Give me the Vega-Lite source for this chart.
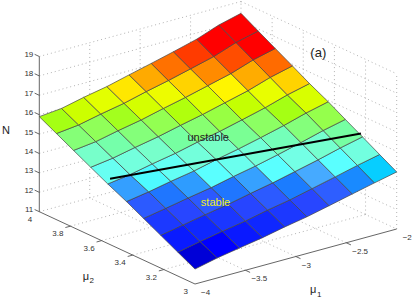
{"$schema":"https://vega.github.io/schema/vega-lite/v6.json","width":415,"height":301,"padding":0,"autosize":{"type":"none"},"background":"white","config":{"view":{"stroke":null},"text":{"font":"Liberation Sans"}},
"encoding":{"x":{"field":"px","type":"quantitative","axis":null,"scale":{"domain":[0,415],"nice":false,"zero":false}},"y":{"field":"py","type":"quantitative","axis":null,"scale":{"domain":[301,0],"nice":false,"zero":false}}},
"layer":[
{"data":{"values":[
{"g":"n12a","mu1":[-4,-2],"mu2":[4,4],"N":[12,12]},{"g":"n13a","mu1":[-4,-2],"mu2":[4,4],"N":[13,13]},{"g":"n14a","mu1":[-4,-2],"mu2":[4,4],"N":[14,14]},{"g":"n15a","mu1":[-4,-2],"mu2":[4,4],"N":[15,15]},{"g":"n16a","mu1":[-4,-2],"mu2":[4,4],"N":[16,16]},{"g":"n17a","mu1":[-4,-2],"mu2":[4,4],"N":[17,17]},{"g":"n18a","mu1":[-4,-2],"mu2":[4,4],"N":[18,18]},{"g":"n19a","mu1":[-4,-2],"mu2":[4,4],"N":[19,19]},{"g":"n11a","mu1":[-4,-2],"mu2":[4,4],"N":[11,11]},
{"g":"n12b","mu1":[-2,-2],"mu2":[4,3],"N":[12,12]},{"g":"n13b","mu1":[-2,-2],"mu2":[4,3],"N":[13,13]},{"g":"n14b","mu1":[-2,-2],"mu2":[4,3],"N":[14,14]},{"g":"n15b","mu1":[-2,-2],"mu2":[4,3],"N":[15,15]},{"g":"n16b","mu1":[-2,-2],"mu2":[4,3],"N":[16,16]},{"g":"n17b","mu1":[-2,-2],"mu2":[4,3],"N":[17,17]},{"g":"n18b","mu1":[-2,-2],"mu2":[4,3],"N":[18,18]},{"g":"n19b","mu1":[-2,-2],"mu2":[4,3],"N":[19,19]},{"g":"n11b","mu1":[-2,-2],"mu2":[4,3],"N":[11,11]},
{"g":"v1","mu1":[-3.5,-3.5],"mu2":[4,4],"N":[11,19]},{"g":"v2","mu1":[-3,-3],"mu2":[4,4],"N":[11,19]},{"g":"v3","mu1":[-2.5,-2.5],"mu2":[4,4],"N":[11,19]},{"g":"v4","mu1":[-2,-2],"mu2":[4,4],"N":[11,19]},
{"g":"w1","mu1":[-2,-2],"mu2":[3.8,3.8],"N":[11,19]},{"g":"w2","mu1":[-2,-2],"mu2":[3.6,3.6],"N":[11,19]},{"g":"w3","mu1":[-2,-2],"mu2":[3.4,3.4],"N":[11,19]},{"g":"w4","mu1":[-2,-2],"mu2":[3.2,3.2],"N":[11,19]},{"g":"w5","mu1":[-2,-2],"mu2":[3,3],"N":[11,19]},
{"g":"f1","mu1":[-3.5,-3.5],"mu2":[3,4],"N":[11,11]},{"g":"f2","mu1":[-3,-3],"mu2":[3,4],"N":[11,11]},{"g":"f3","mu1":[-2.5,-2.5],"mu2":[3,4],"N":[11,11]},
{"g":"h1","mu1":[-4,-2],"mu2":[3.2,3.2],"N":[11,11]},{"g":"h2","mu1":[-4,-2],"mu2":[3.4,3.4],"N":[11,11]},{"g":"h3","mu1":[-4,-2],"mu2":[3.6,3.6],"N":[11,11]},{"g":"h4","mu1":[-4,-2],"mu2":[3.8,3.8],"N":[11,11]}
]},"transform":[{"flatten":["mu1","mu2","N"]},{"calculate":"195+100.85*(datum.mu1+4)-155.7*(datum.mu2-3)","as":"px"},{"calculate":"284-27.5*(datum.mu1+4)-72.3*(datum.mu2-3)-19.4*(datum.N-11)","as":"py"}],"mark":{"type":"line","stroke":"#a0a0a0","strokeWidth":0.8,"strokeDash":[1,3]},"encoding":{"detail":{"field":"g"},"order":{"value":null}}},
{"data":{"values":[
{"g":"z","mu1":[-4,-4],"mu2":[4,4],"N":[11,19]},{"g":"y","mu1":[-4,-4],"mu2":[4,3],"N":[11,11]},{"g":"x","mu1":[-4,-2],"mu2":[3,3],"N":[11,11]},
{"g":"t11","mu1":[-4,-4],"mu2":[4,4.03],"N":[11,11]},{"g":"t12","mu1":[-4,-4],"mu2":[4,4.03],"N":[12,12]},{"g":"t13","mu1":[-4,-4],"mu2":[4,4.03],"N":[13,13]},{"g":"t14","mu1":[-4,-4],"mu2":[4,4.03],"N":[14,14]},{"g":"t15","mu1":[-4,-4],"mu2":[4,4.03],"N":[15,15]},{"g":"t16","mu1":[-4,-4],"mu2":[4,4.03],"N":[16,16]},{"g":"t17","mu1":[-4,-4],"mu2":[4,4.03],"N":[17,17]},{"g":"t18","mu1":[-4,-4],"mu2":[4,4.03],"N":[18,18]},{"g":"t19","mu1":[-4,-4],"mu2":[4,4.03],"N":[19,19]},
{"g":"u1","mu1":[-4,-4.05],"mu2":[3.2,3.2],"N":[11,11]},{"g":"u2","mu1":[-4,-4.05],"mu2":[3.4,3.4],"N":[11,11]},{"g":"u3","mu1":[-4,-4.05],"mu2":[3.6,3.6],"N":[11,11]},{"g":"u4","mu1":[-4,-4.05],"mu2":[3.8,3.8],"N":[11,11]},
{"g":"s1","mu1":[-3.5,-3.5],"mu2":[3,2.97],"N":[11,11]},{"g":"s2","mu1":[-3,-3],"mu2":[3,2.97],"N":[11,11]},{"g":"s3","mu1":[-2.5,-2.5],"mu2":[3,2.97],"N":[11,11]}
]},"transform":[{"flatten":["mu1","mu2","N"]},{"calculate":"195+100.85*(datum.mu1+4)-155.7*(datum.mu2-3)","as":"px"},{"calculate":"284-27.5*(datum.mu1+4)-72.3*(datum.mu2-3)-19.4*(datum.N-11)","as":"py"}],"mark":{"type":"line","stroke":"#555555","strokeWidth":0.9},"encoding":{"detail":{"field":"g"},"order":{"value":null}}},
{"data":{"values":[
{"c":"00","C":12.13,"mu1":[-4,-3.78,-3.78,-4],"mu2":[3,3,3.11,3.11],"N":[11.77,12.03,12.47,12.23]},
{"c":"01","C":12.58,"mu1":[-4,-3.78,-3.78,-4],"mu2":[3.11,3.11,3.22,3.22],"N":[12.23,12.47,12.91,12.69]},
{"c":"02","C":13.03,"mu1":[-4,-3.78,-3.78,-4],"mu2":[3.22,3.22,3.33,3.33],"N":[12.69,12.91,13.36,13.15]},
{"c":"03","C":13.48,"mu1":[-4,-3.78,-3.78,-4],"mu2":[3.33,3.33,3.44,3.44],"N":[13.15,13.36,13.80,13.61]},
{"c":"04","C":13.93,"mu1":[-4,-3.78,-3.78,-4],"mu2":[3.44,3.44,3.56,3.56],"N":[13.61,13.80,14.24,14.07]},
{"c":"05","C":14.38,"mu1":[-4,-3.78,-3.78,-4],"mu2":[3.56,3.56,3.67,3.67],"N":[14.07,14.24,14.68,14.52]},
{"c":"06","C":14.83,"mu1":[-4,-3.78,-3.78,-4],"mu2":[3.67,3.67,3.78,3.78],"N":[14.52,14.68,15.12,14.98]},
{"c":"07","C":15.28,"mu1":[-4,-3.78,-3.78,-4],"mu2":[3.78,3.78,3.89,3.89],"N":[14.98,15.12,15.57,15.44]},
{"c":"08","C":15.73,"mu1":[-4,-3.78,-3.78,-4],"mu2":[3.89,3.89,4,4],"N":[15.44,15.57,16.01,15.90]},
{"c":"10","C":12.35,"mu1":[-3.78,-3.56,-3.56,-3.78],"mu2":[3,3,3.11,3.11],"N":[12.03,12.23,12.68,12.47]},
{"c":"11","C":12.80,"mu1":[-3.78,-3.56,-3.56,-3.78],"mu2":[3.11,3.11,3.22,3.22],"N":[12.47,12.68,13.13,12.91]},
{"c":"12","C":13.25,"mu1":[-3.78,-3.56,-3.56,-3.78],"mu2":[3.22,3.22,3.33,3.33],"N":[12.91,13.13,13.58,13.36]},
{"c":"13","C":13.69,"mu1":[-3.78,-3.56,-3.56,-3.78],"mu2":[3.33,3.33,3.44,3.44],"N":[13.36,13.58,14.03,13.80]},
{"c":"14","C":14.14,"mu1":[-3.78,-3.56,-3.56,-3.78],"mu2":[3.44,3.44,3.56,3.56],"N":[13.80,14.03,14.48,14.24]},
{"c":"15","C":14.58,"mu1":[-3.78,-3.56,-3.56,-3.78],"mu2":[3.56,3.56,3.67,3.67],"N":[14.24,14.48,14.92,14.68]},
{"c":"16","C":15.02,"mu1":[-3.78,-3.56,-3.56,-3.78],"mu2":[3.67,3.67,3.78,3.78],"N":[14.68,14.92,15.37,15.12]},
{"c":"17","C":15.47,"mu1":[-3.78,-3.56,-3.56,-3.78],"mu2":[3.78,3.78,3.89,3.89],"N":[15.12,15.37,15.82,15.57]},
{"c":"18","C":15.92,"mu1":[-3.78,-3.56,-3.56,-3.78],"mu2":[3.89,3.89,4,4],"N":[15.57,15.82,16.27,16.01]},
{"c":"20","C":12.56,"mu1":[-3.56,-3.33,-3.33,-3.56],"mu2":[3,3,3.11,3.11],"N":[12.23,12.44,12.89,12.68]},
{"c":"21","C":13.01,"mu1":[-3.56,-3.33,-3.33,-3.56],"mu2":[3.11,3.11,3.22,3.22],"N":[12.68,12.89,13.34,13.13]},
{"c":"22","C":13.46,"mu1":[-3.56,-3.33,-3.33,-3.56],"mu2":[3.22,3.22,3.33,3.33],"N":[13.13,13.34,13.79,13.58]},
{"c":"23","C":13.91,"mu1":[-3.56,-3.33,-3.33,-3.56],"mu2":[3.33,3.33,3.44,3.44],"N":[13.58,13.79,14.24,14.03]},
{"c":"24","C":14.36,"mu1":[-3.56,-3.33,-3.33,-3.56],"mu2":[3.44,3.44,3.56,3.56],"N":[14.03,14.24,14.70,14.48]},
{"c":"25","C":14.81,"mu1":[-3.56,-3.33,-3.33,-3.56],"mu2":[3.56,3.56,3.67,3.67],"N":[14.48,14.70,15.15,14.92]},
{"c":"26","C":15.26,"mu1":[-3.56,-3.33,-3.33,-3.56],"mu2":[3.67,3.67,3.78,3.78],"N":[14.92,15.15,15.60,15.37]},
{"c":"27","C":15.71,"mu1":[-3.56,-3.33,-3.33,-3.56],"mu2":[3.78,3.78,3.89,3.89],"N":[15.37,15.60,16.05,15.82]},
{"c":"28","C":16.16,"mu1":[-3.56,-3.33,-3.33,-3.56],"mu2":[3.89,3.89,4,4],"N":[15.82,16.05,16.50,16.27]},
{"c":"30","C":12.79,"mu1":[-3.33,-3.11,-3.11,-3.33],"mu2":[3,3,3.11,3.11],"N":[12.44,12.68,13.14,12.89]},
{"c":"31","C":13.24,"mu1":[-3.33,-3.11,-3.11,-3.33],"mu2":[3.11,3.11,3.22,3.22],"N":[12.89,13.14,13.59,13.34]},
{"c":"32","C":13.69,"mu1":[-3.33,-3.11,-3.11,-3.33],"mu2":[3.22,3.22,3.33,3.33],"N":[13.34,13.59,14.05,13.79]},
{"c":"33","C":14.15,"mu1":[-3.33,-3.11,-3.11,-3.33],"mu2":[3.33,3.33,3.44,3.44],"N":[13.79,14.05,14.51,14.24]},
{"c":"34","C":14.61,"mu1":[-3.33,-3.11,-3.11,-3.33],"mu2":[3.44,3.44,3.56,3.56],"N":[14.24,14.51,14.97,14.70]},
{"c":"35","C":15.06,"mu1":[-3.33,-3.11,-3.11,-3.33],"mu2":[3.56,3.56,3.67,3.67],"N":[14.70,14.97,15.42,15.15]},
{"c":"36","C":15.51,"mu1":[-3.33,-3.11,-3.11,-3.33],"mu2":[3.67,3.67,3.78,3.78],"N":[15.15,15.42,15.88,15.60]},
{"c":"37","C":15.97,"mu1":[-3.33,-3.11,-3.11,-3.33],"mu2":[3.78,3.78,3.89,3.89],"N":[15.60,15.88,16.34,16.05]},
{"c":"38","C":16.42,"mu1":[-3.33,-3.11,-3.11,-3.33],"mu2":[3.89,3.89,4,4],"N":[16.05,16.34,16.79,16.50]},
{"c":"40","C":13.02,"mu1":[-3.11,-2.89,-2.89,-3.11],"mu2":[3,3,3.11,3.11],"N":[12.68,12.89,13.35,13.14]},
{"c":"41","C":13.48,"mu1":[-3.11,-2.89,-2.89,-3.11],"mu2":[3.11,3.11,3.22,3.22],"N":[13.14,13.35,13.82,13.59]},
{"c":"42","C":13.94,"mu1":[-3.11,-2.89,-2.89,-3.11],"mu2":[3.22,3.22,3.33,3.33],"N":[13.59,13.82,14.28,14.05]},
{"c":"43","C":14.40,"mu1":[-3.11,-2.89,-2.89,-3.11],"mu2":[3.33,3.33,3.44,3.44],"N":[14.05,14.28,14.75,14.51]},
{"c":"44","C":14.86,"mu1":[-3.11,-2.89,-2.89,-3.11],"mu2":[3.44,3.44,3.56,3.56],"N":[14.51,14.75,15.21,14.97]},
{"c":"45","C":15.32,"mu1":[-3.11,-2.89,-2.89,-3.11],"mu2":[3.56,3.56,3.67,3.67],"N":[14.97,15.21,15.67,15.42]},
{"c":"46","C":15.78,"mu1":[-3.11,-2.89,-2.89,-3.11],"mu2":[3.67,3.67,3.78,3.78],"N":[15.42,15.67,16.14,15.88]},
{"c":"47","C":16.24,"mu1":[-3.11,-2.89,-2.89,-3.11],"mu2":[3.78,3.78,3.89,3.89],"N":[15.88,16.14,16.60,16.34]},
{"c":"48","C":16.70,"mu1":[-3.11,-2.89,-2.89,-3.11],"mu2":[3.89,3.89,4,4],"N":[16.34,16.60,17.07,16.79]},
{"c":"50","C":13.25,"mu1":[-2.89,-2.67,-2.67,-2.89],"mu2":[3,3,3.11,3.11],"N":[12.89,13.15,13.62,13.35]},
{"c":"51","C":13.72,"mu1":[-2.89,-2.67,-2.67,-2.89],"mu2":[3.11,3.11,3.22,3.22],"N":[13.35,13.62,14.09,13.82]},
{"c":"52","C":14.19,"mu1":[-2.89,-2.67,-2.67,-2.89],"mu2":[3.22,3.22,3.33,3.33],"N":[13.82,14.09,14.55,14.28]},
{"c":"53","C":14.65,"mu1":[-2.89,-2.67,-2.67,-2.89],"mu2":[3.33,3.33,3.44,3.44],"N":[14.28,14.55,15.02,14.75]},
{"c":"54","C":15.12,"mu1":[-2.89,-2.67,-2.67,-2.89],"mu2":[3.44,3.44,3.56,3.56],"N":[14.75,15.02,15.49,15.21]},
{"c":"55","C":15.58,"mu1":[-2.89,-2.67,-2.67,-2.89],"mu2":[3.56,3.56,3.67,3.67],"N":[15.21,15.49,15.96,15.67]},
{"c":"56","C":16.05,"mu1":[-2.89,-2.67,-2.67,-2.89],"mu2":[3.67,3.67,3.78,3.78],"N":[15.67,15.96,16.43,16.14]},
{"c":"57","C":16.52,"mu1":[-2.89,-2.67,-2.67,-2.89],"mu2":[3.78,3.78,3.89,3.89],"N":[16.14,16.43,16.89,16.60]},
{"c":"58","C":16.98,"mu1":[-2.89,-2.67,-2.67,-2.89],"mu2":[3.89,3.89,4,4],"N":[16.60,16.89,17.36,17.07]},
{"c":"60","C":13.53,"mu1":[-2.67,-2.44,-2.44,-2.67],"mu2":[3,3,3.11,3.11],"N":[13.15,13.43,13.90,13.62]},
{"c":"61","C":14.00,"mu1":[-2.67,-2.44,-2.44,-2.67],"mu2":[3.11,3.11,3.22,3.22],"N":[13.62,13.90,14.37,14.09]},
{"c":"62","C":14.47,"mu1":[-2.67,-2.44,-2.44,-2.67],"mu2":[3.22,3.22,3.33,3.33],"N":[14.09,14.37,14.85,14.55]},
{"c":"63","C":14.94,"mu1":[-2.67,-2.44,-2.44,-2.67],"mu2":[3.33,3.33,3.44,3.44],"N":[14.55,14.85,15.32,15.02]},
{"c":"64","C":15.41,"mu1":[-2.67,-2.44,-2.44,-2.67],"mu2":[3.44,3.44,3.56,3.56],"N":[15.02,15.32,15.79,15.49]},
{"c":"65","C":15.88,"mu1":[-2.67,-2.44,-2.44,-2.67],"mu2":[3.56,3.56,3.67,3.67],"N":[15.49,15.79,16.26,15.96]},
{"c":"66","C":16.35,"mu1":[-2.67,-2.44,-2.44,-2.67],"mu2":[3.67,3.67,3.78,3.78],"N":[15.96,16.26,16.73,16.43]},
{"c":"67","C":16.81,"mu1":[-2.67,-2.44,-2.44,-2.67],"mu2":[3.78,3.78,3.89,3.89],"N":[16.43,16.73,17.20,16.89]},
{"c":"68","C":17.28,"mu1":[-2.67,-2.44,-2.44,-2.67],"mu2":[3.89,3.89,4,4],"N":[16.89,17.20,17.68,17.36]},
{"c":"70","C":13.80,"mu1":[-2.44,-2.22,-2.22,-2.44],"mu2":[3,3,3.11,3.11],"N":[13.43,13.69,14.18,13.90]},
{"c":"71","C":14.28,"mu1":[-2.44,-2.22,-2.22,-2.44],"mu2":[3.11,3.11,3.22,3.22],"N":[13.90,14.18,14.67,14.37]},
{"c":"72","C":14.76,"mu1":[-2.44,-2.22,-2.22,-2.44],"mu2":[3.22,3.22,3.33,3.33],"N":[14.37,14.67,15.16,14.85]},
{"c":"73","C":15.25,"mu1":[-2.44,-2.22,-2.22,-2.44],"mu2":[3.33,3.33,3.44,3.44],"N":[14.85,15.16,15.65,15.32]},
{"c":"74","C":15.73,"mu1":[-2.44,-2.22,-2.22,-2.44],"mu2":[3.44,3.44,3.56,3.56],"N":[15.32,15.65,16.14,15.79]},
{"c":"75","C":16.21,"mu1":[-2.44,-2.22,-2.22,-2.44],"mu2":[3.56,3.56,3.67,3.67],"N":[15.79,16.14,16.63,16.26]},
{"c":"76","C":16.69,"mu1":[-2.44,-2.22,-2.22,-2.44],"mu2":[3.67,3.67,3.78,3.78],"N":[16.26,16.63,17.12,16.73]},
{"c":"77","C":17.17,"mu1":[-2.44,-2.22,-2.22,-2.44],"mu2":[3.78,3.78,3.89,3.89],"N":[16.73,17.12,17.61,17.20]},
{"c":"78","C":17.65,"mu1":[-2.44,-2.22,-2.22,-2.44],"mu2":[3.89,3.89,4,4],"N":[17.20,17.61,18.10,17.68]},
{"c":"80","C":14.06,"mu1":[-2.22,-2,-2,-2.22],"mu2":[3,3,3.11,3.11],"N":[13.69,13.94,14.43,14.18]},
{"c":"81","C":14.55,"mu1":[-2.22,-2,-2,-2.22],"mu2":[3.11,3.11,3.22,3.22],"N":[14.18,14.43,14.93,14.67]},
{"c":"82","C":15.05,"mu1":[-2.22,-2,-2,-2.22],"mu2":[3.22,3.22,3.33,3.33],"N":[14.67,14.93,15.42,15.16]},
{"c":"83","C":15.54,"mu1":[-2.22,-2,-2,-2.22],"mu2":[3.33,3.33,3.44,3.44],"N":[15.16,15.42,15.92,15.65]},
{"c":"84","C":16.03,"mu1":[-2.22,-2,-2,-2.22],"mu2":[3.44,3.44,3.56,3.56],"N":[15.65,15.92,16.41,16.14]},
{"c":"85","C":16.52,"mu1":[-2.22,-2,-2,-2.22],"mu2":[3.56,3.56,3.67,3.67],"N":[16.14,16.41,16.91,16.63]},
{"c":"86","C":17.02,"mu1":[-2.22,-2,-2,-2.22],"mu2":[3.67,3.67,3.78,3.78],"N":[16.63,16.91,17.40,17.12]},
{"c":"87","C":17.51,"mu1":[-2.22,-2,-2,-2.22],"mu2":[3.78,3.78,3.89,3.89],"N":[17.12,17.40,17.89,17.61]},
{"c":"88","C":18.00,"mu1":[-2.22,-2,-2,-2.22],"mu2":[3.89,3.89,4,4],"N":[17.61,17.89,18.39,18.10]}
]},"transform":[{"flatten":["mu1","mu2","N"]},{"calculate":"195+100.85*(datum.mu1+4)-155.7*(datum.mu2-3)","as":"px"},{"calculate":"284-27.5*(datum.mu1+4)-72.3*(datum.mu2-3)-19.4*(datum.N-11)","as":"py"}],"mark":{"type":"line","interpolate":"linear-closed","stroke":"#454545","strokeWidth":0.7,"strokeJoin":"miter"},"encoding":{"detail":{"field":"c"},"order":{"value":null},"fill":{"field":"C","type":"quantitative","legend":null,"scale":{"type":"linear","clamp":true,"zero":false,"nice":false,"domain":[12.1,12.35,12.56,12.8,13.25,13.6,14.0,14.15,14.3,14.45,14.85,15.2,15.73,15.95,16.2,16.35,16.5,16.7,16.8,17.0,17.2,17.5],"range":["#0000d2","#0000ff","#0a19ff","#0f28ff","#2846ff","#3264ff","#46aaff","#5affff","#5affff","#73ffe6","#78ffc8","#82ff82","#a5ff14","#d2ff00","#e6ff00","#fff500","#ffd700","#ffaa00","#ff8c00","#ff6e00","#ff4600","#ff0000"]}}}},
{"data":{"values":[{"g":"b","mu1":[-3.95,-2.05],"mu2":[3.578,3.197],"N":[14.2,15.26]}]},"transform":[{"flatten":["mu1","mu2","N"]},{"calculate":"195+100.85*(datum.mu1+4)-155.7*(datum.mu2-3)","as":"px"},{"calculate":"284-27.5*(datum.mu1+4)-72.3*(datum.mu2-3)-19.4*(datum.N-11)","as":"py"}],"mark":{"type":"line","stroke":"#000000","strokeWidth":2},"encoding":{"detail":{"field":"g"},"order":{"value":null}}},
{"data":{"values":[{"t":"11","mu1":[-4],"mu2":[4],"N":[11]},{"t":"12","mu1":[-4],"mu2":[4],"N":[12]},{"t":"13","mu1":[-4],"mu2":[4],"N":[13]},{"t":"14","mu1":[-4],"mu2":[4],"N":[14]},{"t":"15","mu1":[-4],"mu2":[4],"N":[15]},{"t":"16","mu1":[-4],"mu2":[4],"N":[16]},{"t":"17","mu1":[-4],"mu2":[4],"N":[17]},{"t":"18","mu1":[-4],"mu2":[4],"N":[18]},{"t":"19","mu1":[-4],"mu2":[4],"N":[19]}]},"transform":[{"flatten":["mu1","mu2","N"]},{"calculate":"195+100.85*(datum.mu1+4)-155.7*(datum.mu2-3)","as":"px"},{"calculate":"284-27.5*(datum.mu1+4)-72.3*(datum.mu2-3)-19.4*(datum.N-11)","as":"py"}],"mark":{"type":"text","align":"right","baseline":"middle","fontSize":8,"dx":-6,"dy":-1.5,"fill":"#333333"},"encoding":{"text":{"field":"t"}}},
{"data":{"values":[{"t":"4","mu1":[-4],"mu2":[4],"N":[11]},{"t":"3.8","mu1":[-4],"mu2":[3.8],"N":[11]},{"t":"3.6","mu1":[-4],"mu2":[3.6],"N":[11]},{"t":"3.4","mu1":[-4],"mu2":[3.4],"N":[11]},{"t":"3.2","mu1":[-4],"mu2":[3.2],"N":[11]},{"t":"3","mu1":[-4],"mu2":[3],"N":[11]}]},"transform":[{"flatten":["mu1","mu2","N"]},{"calculate":"195+100.85*(datum.mu1+4)-155.7*(datum.mu2-3)","as":"px"},{"calculate":"284-27.5*(datum.mu1+4)-72.3*(datum.mu2-3)-19.4*(datum.N-11)","as":"py"}],"mark":{"type":"text","align":"right","baseline":"middle","fontSize":8,"dx":-7,"dy":8,"fill":"#333333"},"encoding":{"text":{"field":"t"}}},
{"data":{"values":[{"t":"−4","mu1":[-4],"mu2":[3],"N":[11]},{"t":"−3.5","mu1":[-3.5],"mu2":[3],"N":[11]},{"t":"−3","mu1":[-3],"mu2":[3],"N":[11]},{"t":"−2.5","mu1":[-2.5],"mu2":[3],"N":[11]},{"t":"−2","mu1":[-2],"mu2":[3],"N":[11]}]},"transform":[{"flatten":["mu1","mu2","N"]},{"calculate":"195+100.85*(datum.mu1+4)-155.7*(datum.mu2-3)","as":"px"},{"calculate":"284-27.5*(datum.mu1+4)-72.3*(datum.mu2-3)-19.4*(datum.N-11)","as":"py"}],"mark":{"type":"text","align":"left","baseline":"middle","fontSize":8,"dx":6,"dy":9,"fill":"#333333"},"encoding":{"text":{"field":"t"}}},
{"data":{"values":[{"t":"N","mu1":[-4],"mu2":[4.214],"N":[14.41]},{"t":"unstable","mu1":[-3],"mu2":[3.563],"N":[15.06]}]},"transform":[{"flatten":["mu1","mu2","N"]},{"calculate":"195+100.85*(datum.mu1+4)-155.7*(datum.mu2-3)","as":"px"},{"calculate":"284-27.5*(datum.mu1+4)-72.3*(datum.mu2-3)-19.4*(datum.N-11)","as":"py"}],"mark":{"type":"text","align":"center","baseline":"middle","fontSize":11,"dy":1,"fill":"#222222"},"encoding":{"text":{"field":"t"}}},
{"data":{"values":[{"t":"stable","mu1":[-3],"mu2":[3.516],"N":[11.90]}]},"transform":[{"flatten":["mu1","mu2","N"]},{"calculate":"195+100.85*(datum.mu1+4)-155.7*(datum.mu2-3)","as":"px"},{"calculate":"284-27.5*(datum.mu1+4)-72.3*(datum.mu2-3)-19.4*(datum.N-11)","as":"py"}],"mark":{"type":"text","align":"center","baseline":"middle","fontSize":11,"dy":1,"fill":"#f0f020"},"encoding":{"text":{"field":"t"}}},
{"data":{"values":[{"t":"(a)","mu1":[-2],"mu2":[3.5035],"N":[18.24]}]},"transform":[{"flatten":["mu1","mu2","N"]},{"calculate":"195+100.85*(datum.mu1+4)-155.7*(datum.mu2-3)","as":"px"},{"calculate":"284-27.5*(datum.mu1+4)-72.3*(datum.mu2-3)-19.4*(datum.N-11)","as":"py"}],"mark":{"type":"text","align":"center","baseline":"middle","fontSize":13,"dy":1,"fill":"#222222"},"encoding":{"text":{"field":"t"}}},
{"data":{"values":[{"t":"μ","mu1":[-4],"mu2":[3.721],"N":[8.52]},{"t":"μ","mu1":[-2.86],"mu2":[3],"N":[8.92]}]},"transform":[{"flatten":["mu1","mu2","N"]},{"calculate":"195+100.85*(datum.mu1+4)-155.7*(datum.mu2-3)","as":"px"},{"calculate":"284-27.5*(datum.mu1+4)-72.3*(datum.mu2-3)-19.4*(datum.N-11)","as":"py"}],"mark":{"type":"text","align":"left","baseline":"alphabetic","fontSize":11,"fill":"#222222"},"encoding":{"text":{"field":"t"}}},
{"data":{"values":[{"t":"2","mu1":[-4],"mu2":[3.678],"N":[8.51]},{"t":"1","mu1":[-2.79],"mu2":[3],"N":[8.62]}]},"transform":[{"flatten":["mu1","mu2","N"]},{"calculate":"195+100.85*(datum.mu1+4)-155.7*(datum.mu2-3)","as":"px"},{"calculate":"284-27.5*(datum.mu1+4)-72.3*(datum.mu2-3)-19.4*(datum.N-11)","as":"py"}],"mark":{"type":"text","align":"left","baseline":"alphabetic","fontSize":8,"fill":"#222222"},"encoding":{"text":{"field":"t"}}}
]}
